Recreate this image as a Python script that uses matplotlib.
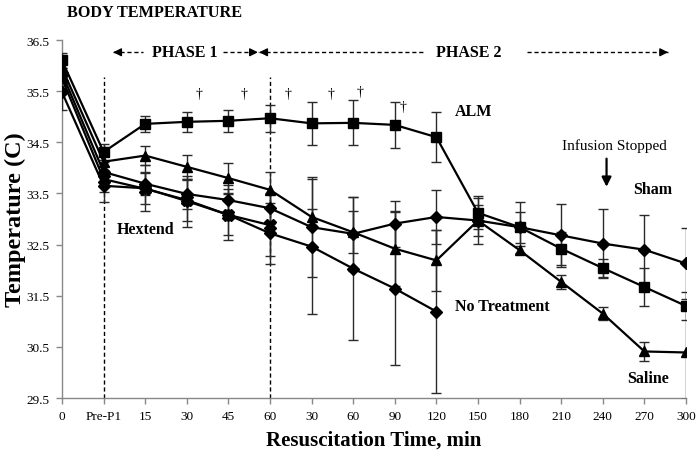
import numpy as np
import matplotlib
matplotlib.use("Agg")
import matplotlib.pyplot as plt

plt.rcParams['font.family'] = ['Liberation Serif', 'DejaVu Serif']

# ---- data ----
tick_labels = ["0", "Pre-P1", "15", "30", "45", "60", "30", "60", "90", "120",
               "150", "180", "210", "240", "270", "300"]

alm = [36.10, 34.31, 34.86, 34.90, 34.92, 34.97, 34.87, 34.88, 34.84, 34.60,
       33.12, 32.84, 32.42, 32.04, 31.67, 31.30]
alm_err = [0.15, 0.15, 0.16, 0.19, 0.22, 0.26, 0.42, 0.44, 0.45, 0.49,
           0.32, 0.30, 0.32, 0.17, 0.37, 0.28]

saline = [35.95, 34.12, 34.24, 34.02, 33.80, 33.57, 33.04, 32.74, 32.42, 32.19,
          32.97, 32.39, 31.77, 31.15, 30.41, 30.39]
saline_err = [0.20, 0.20, 0.18, 0.24, 0.30, 0.35, 0.16, 0.41, 0.73, 0.60,
              0.30, 0.08, 0.13, 0.13, 0.18, 0.90]

sham = [35.85, 33.92, 33.69, 33.49, 33.37, 33.21, 32.84, 32.71, 32.91, 33.04,
        32.97, 32.84, 32.68, 32.52, 32.40, 32.13]
sham_err = [0.25, 0.20, 0.22, 0.30, 0.30, 0.30, 0.98, 0.72, 0.45, 0.52,
            0.45, 0.50, 0.62, 0.68, 0.68, 0.70]

hextend = [35.75, 33.78, 33.59, 33.37, 33.08, 32.88]
hextend_err = [0.20, 0.25, 0.30, 0.40, 0.50, 0.60]

no_treat = [35.48, 33.65, 33.60, 33.35, 33.08, 32.72, 32.46, 32.03, 31.64, 31.19]
no_treat_err = [0.34, 0.31, 0.45, 0.50, 0.40, 0.60, 1.32, 1.40, 1.50, 1.60]

dagger_x = [3.29, 4.37, 5.43, 6.47, 7.16, 8.20]
dagger_y = [35.45, 35.45, 35.45, 35.45, 35.49, 35.19]

# ---- figure ----
fig = plt.figure(figsize=(7.0, 4.52), dpi=100)
ax = fig.add_axes([62/700, 1-399/452, (686-62)/700, (399-41)/452])

x = np.arange(len(tick_labels))
common = dict(color='black', ecolor='#2a2a2a', elinewidth=1.0, capsize=3.6,
              capthick=1.0, lw=1.6, zorder=3)

ax.errorbar(x[:len(no_treat)], no_treat, yerr=no_treat_err, marker='D', ms=6, **common)
ax.errorbar(x[:len(hextend)], hextend, yerr=hextend_err, marker='X', ms=8, **common)
ax.errorbar(x, sham, yerr=sham_err, marker='D', ms=6, **common)
ax.errorbar(x, saline, yerr=saline_err, marker='^', ms=7.5, **common)
ax.errorbar(x, alm, yerr=alm_err, marker='s', ms=7.5, **common)

ax.set_xlim(0, 15)
ax.set_ylim(29.5, 36.5)
ax.set_xticks(x)
ax.set_xticklabels(tick_labels, fontsize=9.5)
ax.set_yticks(np.arange(29.5, 36.6, 1.0))
ax.set_yticklabels([f"{v:.1f}" for v in np.arange(29.5, 36.6, 1.0)], fontsize=9.5)
ax.tick_params(axis='both', direction='out', length=4, color='#888888', width=1, pad=5)
for s in ['top', 'right']:
    ax.spines[s].set_visible(False)
for s in ['left', 'bottom']:
    ax.spines[s].set_color('#888888')
    ax.spines[s].set_linewidth(1.0)

ax.set_ylabel("Temperature (C)", fontsize=17.5, fontweight='bold')
ax.yaxis.label.set_va('center')
ax.yaxis.set_label_coords(-47/624, 0.5)
ax.set_xlabel("Resuscitation Time, min", fontsize=15, fontweight='bold', labelpad=5)

# phase separator dashed lines
for xv in [1, 5]:
    ax.plot([xv, xv], [29.5, 35.78], ls=(0, (3, 2)), color='black', lw=1.0, zorder=2)

# phase arrows
py = 36.26
def dash_arrow(x0, x1, head_at_end=True):
    ax.plot([x0, x1], [py, py], ls=(0, (3, 2)), color='black', lw=1.0, clip_on=False)
    hx = x1 if head_at_end else x0
    tx = hx - 0.15 if head_at_end else hx + 0.15
    ax.annotate("", xy=(hx, py), xytext=(tx, py),
                arrowprops=dict(arrowstyle='-|>', color='black', lw=1.0,
                                mutation_scale=12, shrinkA=0, shrinkB=0))

dash_arrow(1.23, 1.95, head_at_end=False)
dash_arrow(3.87, 4.71, head_at_end=True)
dash_arrow(4.74, 8.70, head_at_end=False)
dash_arrow(11.18, 14.57, head_at_end=True)
ax.text(2.96, py, "PHASE 1", ha='center', va='center', fontsize=11.5, fontweight='bold')
ax.text(9.78, py, "PHASE 2", ha='center', va='center', fontsize=11.5, fontweight='bold')

# daggers
for dx, dy in zip(dagger_x, dagger_y):
    ax.text(dx, dy, "\u2020", ha='center', va='center', fontsize=10)

# labels
ax.text(9.45, 35.11, "ALM", ha='left', va='center', fontsize=11.5, fontweight='bold')
ax.text(13.29, 34.44, "Infusion Stopped", ha='center', va='center', fontsize=11)
ax.annotate("", xy=(13.09, 33.63), xytext=(13.09, 34.18),
            arrowprops=dict(arrowstyle='-|>', color='black', lw=1.6,
                            mutation_scale=14, shrinkA=0, shrinkB=0))
ax.text(13.72, 33.59, "Sham", ha='left', va='center', fontsize=11.5, fontweight='bold')
ax.text(1.32, 32.81, "Hextend", ha='left', va='center', fontsize=11.5, fontweight='bold')
ax.text(9.45, 31.29, "No Treatment", ha='left', va='center', fontsize=11.5, fontweight='bold')
ax.text(13.58, 29.90, "Saline", ha='left', va='center', fontsize=11.5, fontweight='bold')

fig.text(67/700, 1-13/452, "BODY TEMPERATURE", ha='left', va='center',
         fontsize=11.7, fontweight='bold')

fig.savefig("out.png", dpi=100)
